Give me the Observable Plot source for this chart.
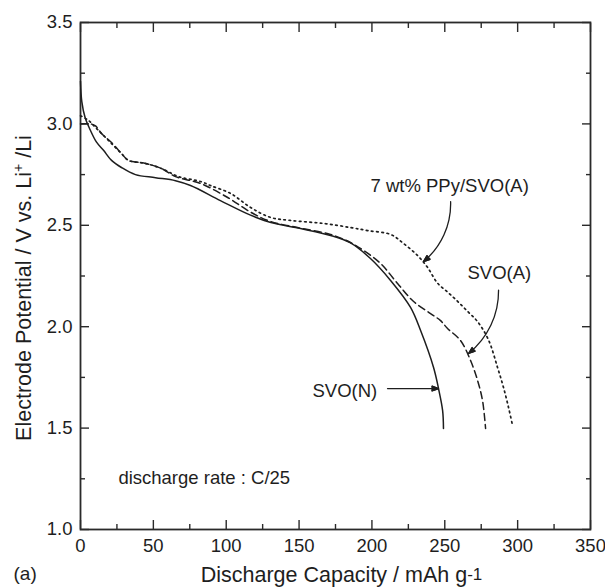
<!DOCTYPE html>
<html><head><meta charset="utf-8">
<script src="https://cdn.jsdelivr.net/npm/d3@7"></script>
<script src="https://cdn.jsdelivr.net/npm/@observablehq/plot@0.6"></script>
<style>body{margin:0;background:#fff}</style>
</head><body><div id="chart"></div>
<script>
// ---- data ----
const xTicks = [0, 50, 100, 150, 200, 250, 300, 350];
const xMinor = [25, 75, 125, 175, 225, 275, 325];
const yTicks = [1.0, 1.5, 2.0, 2.5, 3.0, 3.5];
const yMinor = [1.25, 1.75, 2.25, 2.75, 3.25];

const svoNCap = [0, 0.9, 3.2, 6.7, 11, 15.8, 21.3, 28.1, 37.7, 51.5, 65.2, 75.5, 96, 116.7, 130, 151, 171.6, 185.3, 199, 212.8, 226.5, 233.4, 242.3, 245.7, 248.5, 249.1];
const svoNV   = [3.21, 3.11, 3.03, 2.97, 2.91, 2.87, 2.82, 2.785, 2.75, 2.735, 2.72, 2.696, 2.622, 2.55, 2.515, 2.484, 2.45, 2.413, 2.336, 2.228, 2.095, 1.981, 1.799, 1.695, 1.587, 1.498];

const svoACap = [0, 6.9, 10.3, 14.4, 21.3, 28.1, 33, 44.6, 55.6, 65.2, 82.4, 101, 116.7, 130, 151, 171.6, 185.3, 194.2, 205.9, 217.6, 228.6, 240.2, 247.1, 251.9, 260.8, 267.7, 272.5, 275.9, 278];
const svoAV   = [3.0, 3.0, 2.99, 2.953, 2.908, 2.854, 2.82, 2.805, 2.78, 2.74, 2.706, 2.637, 2.565, 2.52, 2.486, 2.455, 2.415, 2.376, 2.312, 2.213, 2.124, 2.065, 2.03, 1.991, 1.932, 1.833, 1.735, 1.636, 1.498];

const ppyCap = [0, 5.5, 10.3, 17.2, 21.3, 28.1, 33, 44.6, 55.6, 67.3, 82.4, 89.2, 103, 116.7, 130.4, 144, 166.8, 185.3, 197, 212.8, 221.7, 231.3, 238.2, 245, 252, 258.8, 265, 272.5, 280, 286.2, 290.3, 293.8, 296.5];
const ppyV   = [3.04, 3.017, 2.982, 2.933, 2.903, 2.854, 2.82, 2.805, 2.78, 2.74, 2.716, 2.696, 2.657, 2.588, 2.539, 2.524, 2.509, 2.489, 2.474, 2.455, 2.41, 2.351, 2.292, 2.215, 2.17, 2.125, 2.08, 2.025, 1.935, 1.799, 1.70, 1.60, 1.513];

const labelText = ["7 wt% PPy/SVO(A)", "SVO(A)", "SVO(N)", "discharge rate : C/25"];
const labelCap  = [199, 265.6, 159.2, 26];
const labelV    = [2.662, 2.235, 1.655, 1.222];

// arrows: [fromCap, fromV, toCap, toV]
const curvedArrows = [[254, 2.617, 235.4, 2.321], [286.9, 2.18, 266.3, 1.868]];
const straightArrows = [[210.7, 1.695, 245.7, 1.695]];

const xTitle = "Discharge Capacity / mAh g-1";
const yTitle = "Electrode Potential / V vs. Li+/Li";
const panelLabel = "(a)";

// ---- build tables ----
const toRows = (cap, v) => cap.map((c, i) => ({cap: c, v: v[i]}));
const svoN = toRows(svoNCap, svoNV);
const svoA = toRows(svoACap, svoAV);
const ppy = toRows(ppyCap, ppyV);
const labels = labelText.map((t, i) => ({t, cap: labelCap[i], v: labelV[i]}));

const W = 605, H = 587, mL = 80, mR = 15, mT = 22, mB = 58;
const major = 9, minor = 5;
const ink = "#1e1e1e", frameInk = "#2a2a2a";
const fs = 18.5, tfs = 21.5;
const noText = () => "";

// fill the arrow heads (Plot draws them as open chevrons)
function fillHeads(index, scales, values, dimensions, context, next) {
  const g = next(index, scales, values, dimensions, context);
  g.querySelectorAll("path").forEach(p => {
    const d = p.getAttribute("d") || "";
    const k = d.indexOf("M", 1);
    if (k > 0) {
      const hp = p.cloneNode(false);
      hp.setAttribute("d", d.slice(k) + "Z");
      hp.setAttribute("fill", ink);
      hp.setAttribute("stroke-linejoin", "miter");
      p.parentNode.appendChild(hp);
    }
  });
  return g;
}

const tickAxis = (axis, opts) => axis({tickFormat: noText, label: null, stroke: frameInk, color: frameInk, strokeWidth: 1.4, ...opts});

const plot = Plot.plot({
  width: W, height: H,
  marginLeft: mL, marginRight: mR, marginTop: mT, marginBottom: mB,
  style: {fontFamily: "'Liberation Sans', Arial, Helvetica, sans-serif", fontSize: fs + "px", color: ink, background: "#fff"},
  x: {domain: [0, 350]},
  y: {domain: [1.0, 3.5]},
  marks: [
    // inward ticks on all four sides
    tickAxis(Plot.axisX, {anchor: "bottom", ticks: xTicks, tickSize: -major}),
    tickAxis(Plot.axisX, {anchor: "bottom", ticks: xMinor, tickSize: -minor}),
    tickAxis(Plot.axisX, {anchor: "top", ticks: xTicks, tickSize: -major}),
    tickAxis(Plot.axisX, {anchor: "top", ticks: xMinor, tickSize: -minor}),
    tickAxis(Plot.axisY, {anchor: "left", ticks: yTicks, tickSize: -major}),
    tickAxis(Plot.axisY, {anchor: "left", ticks: yMinor, tickSize: -minor}),
    tickAxis(Plot.axisY, {anchor: "right", ticks: yTicks, tickSize: -major}),
    tickAxis(Plot.axisY, {anchor: "right", ticks: yMinor, tickSize: -minor}),
    Plot.frame({stroke: frameInk, strokeWidth: 1.8}),
    // tick labels
    Plot.axisX({anchor: "bottom", ticks: xTicks, tickSize: 0, tickPadding: 9, fontSize: fs, label: null, tickFormat: d => String(d), fill: ink}),
    Plot.axisY({anchor: "left", ticks: yTicks, tickSize: 0, tickPadding: 8, fontSize: fs, label: null, tickFormat: d3.format(".1f"), fill: ink}),
    // curves
    Plot.line(svoN, {x: "cap", y: "v", stroke: ink, strokeWidth: 1.5, curve: "catmull-rom"}),
    Plot.line(svoA, {x: "cap", y: "v", stroke: ink, strokeWidth: 1.5, strokeDasharray: "7,4", curve: "catmull-rom"}),
    Plot.line(ppy, {x: "cap", y: "v", stroke: ink, strokeWidth: 1.7, strokeDasharray: "1.6,3.6", curve: "catmull-rom"}),
    // arrows
    Plot.arrow(curvedArrows, {x1: d => d[0], y1: d => d[1], x2: d => d[2], y2: d => d[3], bend: 26, stroke: ink, strokeWidth: 1.3, headLength: 8, headAngle: 40, render: fillHeads}),
    Plot.arrow(straightArrows, {x1: d => d[0], y1: d => d[1], x2: d => d[2], y2: d => d[3], stroke: ink, strokeWidth: 1.3, headLength: 8, headAngle: 40, render: fillHeads}),
    // annotations
    Plot.text(labels, {x: "cap", y: "v", text: "t", textAnchor: "start", lineAnchor: "bottom", fontSize: fs, fill: ink}),
    // titles
    Plot.text([xTitle], {text: d => d, frameAnchor: "bottom", textAnchor: "middle", dx: 6, dy: 52, lineAnchor: "bottom", fontSize: tfs, fill: ink}),
    Plot.text([yTitle], {text: d => d, frameAnchor: "left", textAnchor: "middle", dx: -50, dy: 12, rotate: -90, lineAnchor: "bottom", fontSize: tfs, fill: ink}),
    Plot.text([panelLabel], {text: d => d, frameAnchor: "bottom-left", dx: -67, dy: 50, textAnchor: "start", lineAnchor: "bottom", fontSize: 19, fill: ink})
  ]
});

// superscripts in titles
const NS = "http://www.w3.org/2000/svg";
function decorate(full, base, sup, rest, shift, size) {
  plot.querySelectorAll("text").forEach(t => {
    if (t.textContent !== full) return;
    const target = t.querySelector("tspan") || t;
    target.textContent = base;
    const s = document.createElementNS(NS, "tspan");
    s.setAttribute("baseline-shift", shift);
    s.setAttribute("font-size", size);
    s.textContent = sup;
    target.appendChild(s);
    if (rest) target.appendChild(document.createTextNode(rest));
  });
}
decorate(yTitle, "Electrode Potential / V vs. Li", "+", " /Li", "55%", "14px");
decorate(xTitle, "Discharge Capacity / mAh g", "-1", "", "2px", "17px");

document.getElementById("chart").appendChild(plot);
</script>
</body></html>
